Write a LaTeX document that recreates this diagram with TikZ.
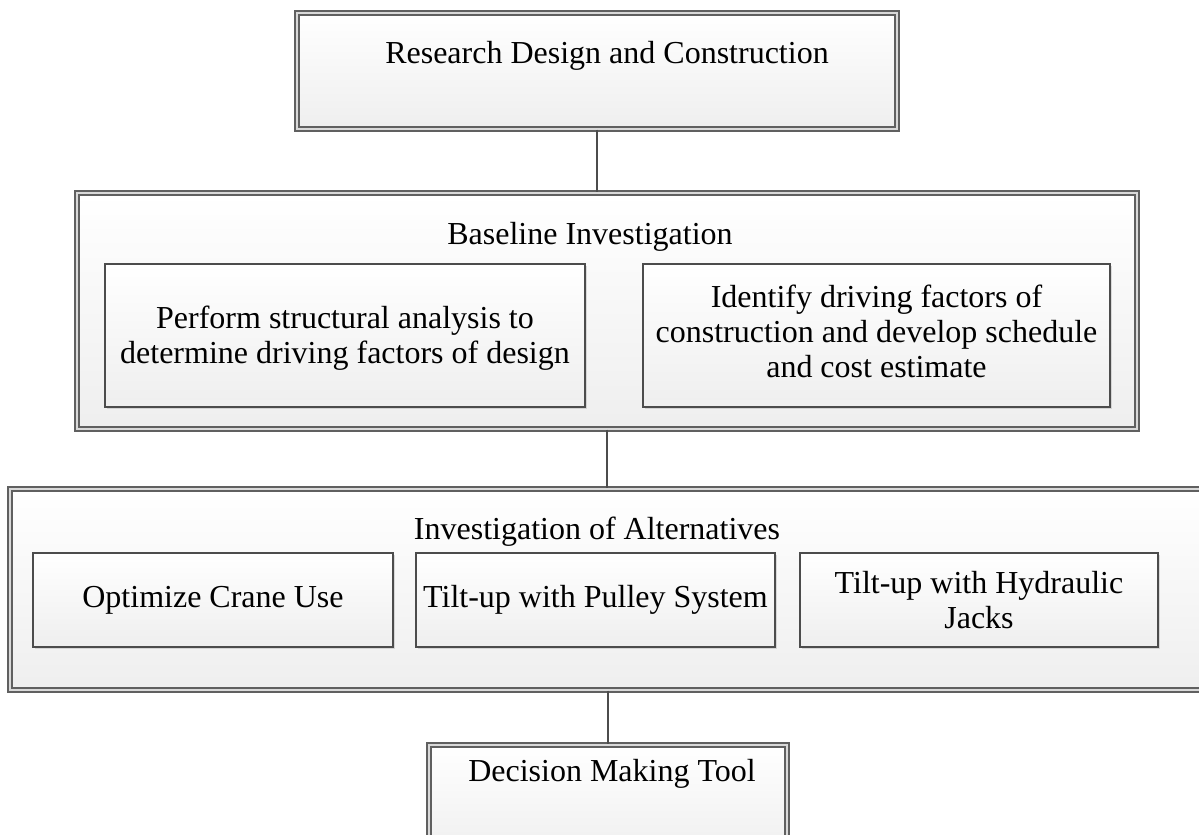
\documentclass[tikz,border=0pt]{standalone}
\usepackage{fontspec}
\setmainfont{Liberation Serif}
\usetikzlibrary{fit,shadows}
\tikzset{
  outerbox/.style={draw=gray!75!black, double=gray!30, double distance=1.3pt, line width=0.7pt,
    top color=white, bottom color=gray!13, inner sep=0pt,
    drop shadow={opacity=0.18, shadow xshift=1.2pt, shadow yshift=-1.2pt}},
  innerbox/.style={draw=gray!60!black, line width=0.8pt,
    top color=white, bottom color=gray!13, inner sep=0pt,
    drop shadow={opacity=0.25, shadow xshift=1.2pt, shadow yshift=-1.2pt}},
  txt/.style={font=\fontsize{16}{17.4}\selectfont, align=center, text=black, inner sep=0pt},
  conn/.style={draw=gray!60!black, line width=0.8pt}
}
\begin{document}
\begin{tikzpicture}[x=0.5pt,y=-0.5pt]
\useasboundingbox (0,0) rectangle (1199,835);
% top
\node[outerbox, fit={(297,13) (897,129)}] (top) {};
\node[txt] (toptxt) at (607,56) {Research Design and Construction};
% baseline
\node[outerbox, fit={(77,193) (1137,429)}] (base) {};
\node[txt] (basetxt) at (590,237) {Baseline Investigation};
\node[innerbox, fit={(105,264) (585,407)}] (b1) {};
\node[txt] (b1txt) at ([yshift=-1.5pt]b1.center) {Perform structural analysis to\\determine driving factors of design};
\node[innerbox, fit={(643,264) (1110,407)}] (b2) {};
\node[txt] (b2txt) at ([yshift=2pt]b2.center) {Identify driving factors of\\construction and develop schedule\\and cost estimate};
% alternatives
\node[outerbox, fit={(10,489) (1205,690)}] (alt) {};
\node[txt] (alttxt) at (597,532) {Investigation of Alternatives};
\node[innerbox, fit={(33,553) (393,647)}] (a1) {};
\node[txt] (a1txt) at (a1.center) {Optimize Crane Use};
\node[innerbox, fit={(416,553) (775,647)}] (a2) {};
\node[txt] (a2txt) at (a2.center) {Tilt-up with Pulley System};
\node[innerbox, fit={(800,553) (1158,647)}] (a3) {};
\node[txt] (a3txt) at (a3.center) {Tilt-up with Hydraulic\\Jacks};
% decision
\node[outerbox, fit={(429,745) (787,860)}] (dec) {};
\node[txt] (dectxt) at (612,774) {Decision Making Tool};
% connectors
\draw[conn] (top.south) -- (top.south |- base.north);
\draw[conn] (base.south) -- (base.south |- alt.north);
\draw[conn] (dec.north |- alt.south) -- (dec.north);
\end{tikzpicture}
\end{document}
